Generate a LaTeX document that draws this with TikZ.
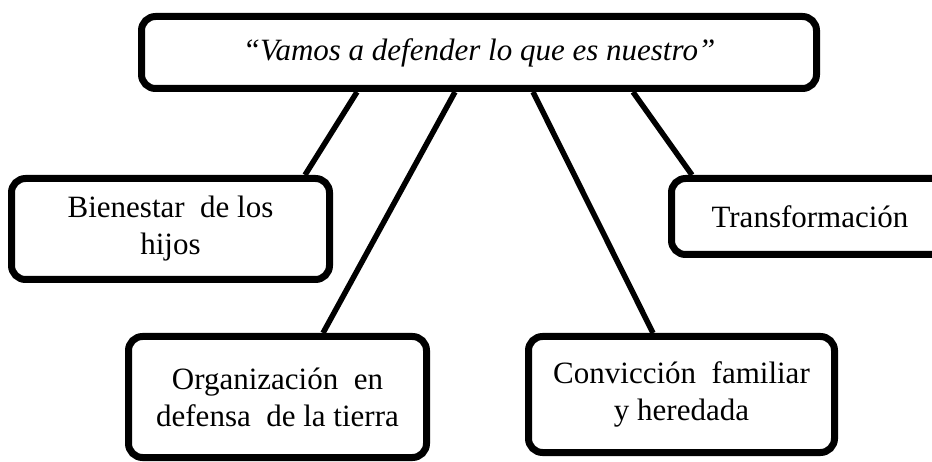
\documentclass[tikz,border=0pt]{standalone}
\usepackage{fontspec}
\setmainfont{Liberation Serif}
\usetikzlibrary{backgrounds}
\begin{document}
\begin{tikzpicture}[x=1pt,y=-1pt,
  box/.style={draw=black, line width=7pt, rounded corners=14pt, fill=white,
    align=center, inner sep=0pt, font=\fontsize{31}{37}\selectfont},
  link/.style={draw=black, line width=5.5pt}]
\useasboundingbox (0,0) rectangle (932,462);
\clip (0,0) rectangle (932,462);
\node[box, minimum width=675pt, minimum height=72pt, font=\fontsize{31}{37}\selectfont\itshape] (top) at (479,52.5) {“Vamos a defender lo que es nuestro”};
\node[box, minimum width=318pt, minimum height=101pt] (bien) at (170.5,229) {Bienestar\ \ de los\\hijos};
\node[box, minimum width=277pt, minimum height=76pt] (trans) at (810,216.5) {Transformación};
\node[box, minimum width=298pt, minimum height=121pt] (org) at (277.5,397) {Organización\ \ en\\defensa\ \ de la tierra};
\node[box, minimum width=306pt, minimum height=116pt] (conv) at (681.5,394.5) {Convicción\ \ familiar\\y heredada};
\begin{pgfonlayer}{background}
\draw[link] ([xshift=-122pt]top.south) -- ([xshift=134.5pt]bien.north);
\draw[link] ([xshift=-24pt]top.south) -- ([xshift=45.5pt]org.north);
\draw[link] ([xshift=54pt]top.south) -- ([xshift=-28.5pt]conv.north);
\draw[link] ([xshift=154pt]top.south) -- ([xshift=-118pt]trans.north);
\end{pgfonlayer}
\end{tikzpicture}
\end{document}
